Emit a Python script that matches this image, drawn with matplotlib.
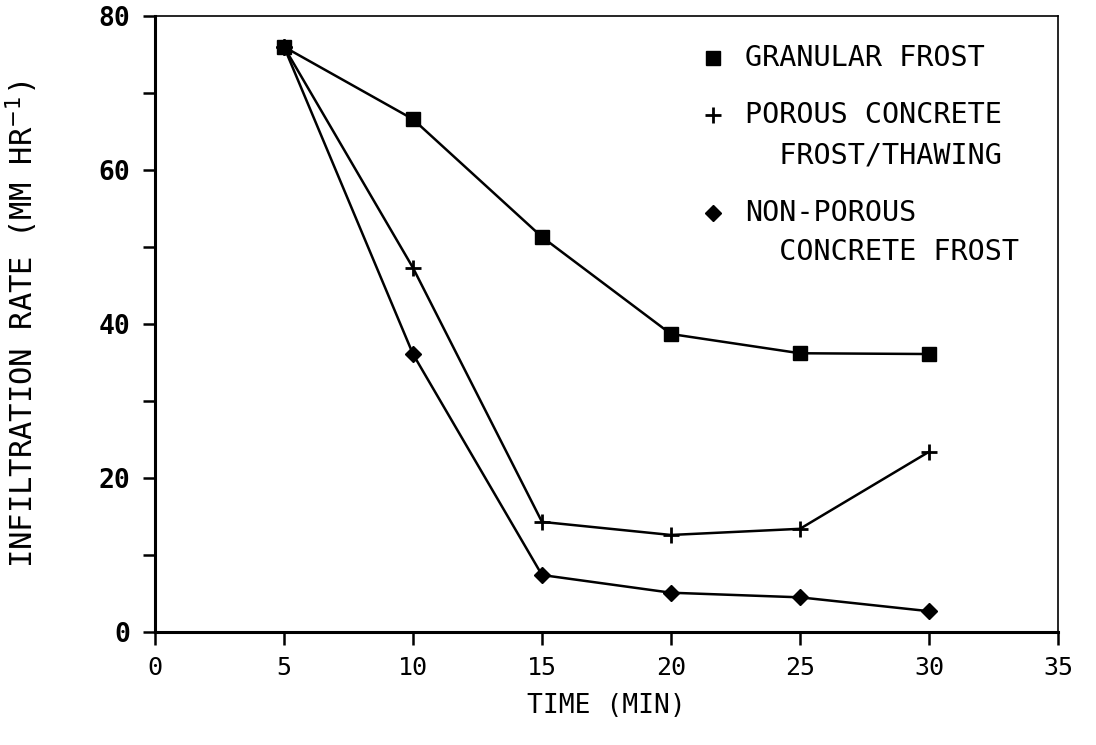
import numpy as np
import matplotlib
matplotlib.use("Agg")
import matplotlib.pyplot as plt
from matplotlib.lines import Line2D
from matplotlib.ticker import MultipleLocator

plt.rcParams['font.family'] = ['DejaVu Sans Mono']

# infiltration measurements, mm/hr, every 5 minutes
time_min = [5, 10, 15, 20, 25, 30]
granular = [76.0, 66.6, 51.3, 38.7, 36.2, 36.1]
porous = [76.0, 47.3, 14.3, 12.6, 13.4, 23.4]
non_porous = [76.0, 36.1, 7.4, 5.1, 4.5, 2.7]

key_lines = [['GRANULAR FROST'],
             ['POROUS CONCRETE', '  FROST/THAWING'],
             ['NON-POROUS', '  CONCRETE FROST']]

fig = plt.figure(figsize=(10.96, 7.45), dpi=100)
ax = fig.add_axes([0.1414, 0.1517, 0.8239, 0.8268])

styles = [dict(marker='s', ms=10),
          dict(marker='+', ms=12, mew=2),
          dict(marker='D', ms=8)]
for ys, st in zip([granular, porous, non_porous], styles):
    ax.plot(time_min, ys, color='black', lw=1.8, **st)

ax.set_xlim(0, 35)
ax.set_ylim(0, 80)
ax.xaxis.set_major_locator(MultipleLocator(5))
ax.yaxis.set_major_locator(MultipleLocator(20))
ax.yaxis.set_minor_locator(MultipleLocator(10))

for side in ['left', 'bottom']:
    ax.spines[side].set_linewidth(2.2)
for side in ['top', 'right']:
    ax.spines[side].set_linewidth(1.2)

ax.tick_params(axis='both', which='both', direction='out', length=9, width=1.8)
ax.tick_params(axis='x', pad=8, labelsize=18)
ax.tick_params(axis='y', pad=9, labelsize=19)
for t in ax.get_yticklabels():
    t.set_fontweight('bold')

ax.set_xlabel('TIME (MIN)', fontsize=19, labelpad=10)
ax.set_ylabel('INFILTRATION RATE (MM HR$^{-1}$)', fontsize=22)
ax.yaxis.set_label_coords(-0.127, 0.5)

# key: marker sits on the first line of each entry
row_y = [[0.932], [0.839, 0.774], [0.680, 0.617]]
for lines, ys, st in zip(key_lines, row_y, styles):
    ax.add_line(Line2D([0.618], [ys[0]], color='black', transform=ax.transAxes,
                       clip_on=False, **st))
    for txt, y in zip(lines, ys):
        ax.text(0.653, y, txt, transform=ax.transAxes, fontsize=20.5,
                va='center', ha='left')

fig.savefig('out.png', dpi=100)
